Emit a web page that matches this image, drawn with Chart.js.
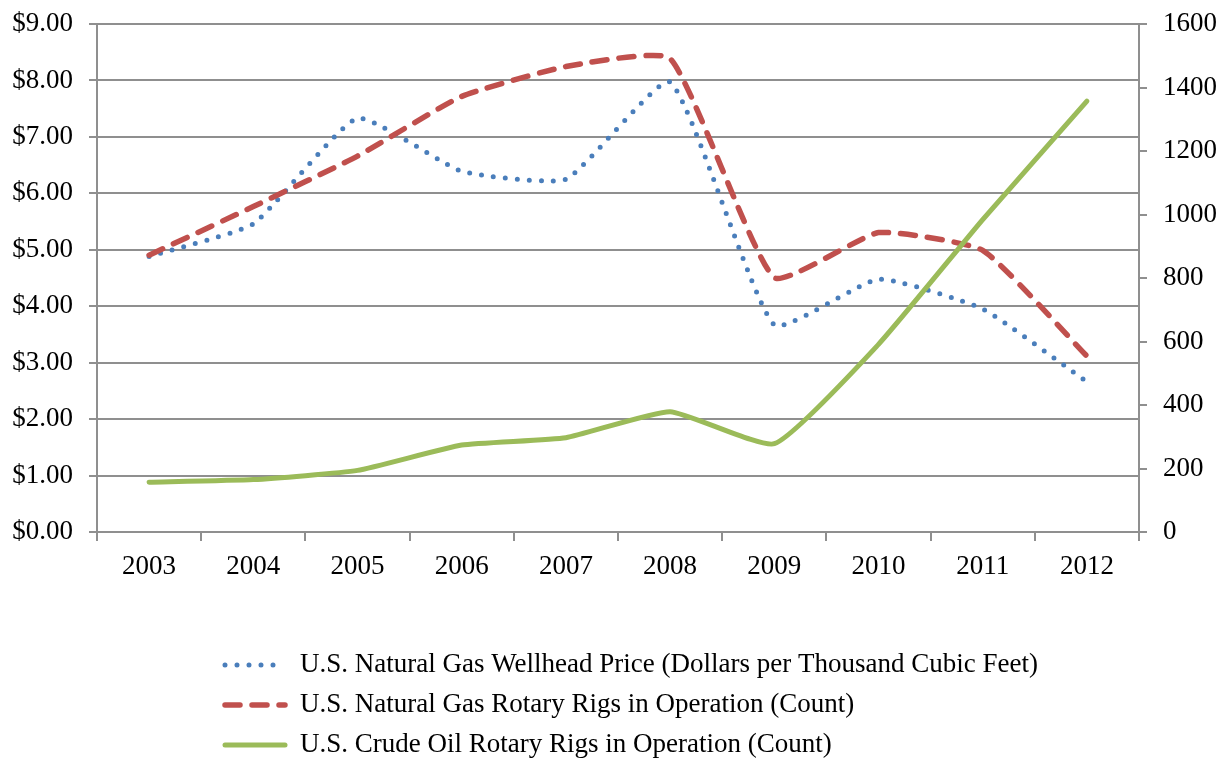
<!DOCTYPE html>
<html>
<head>
<meta charset="utf-8">
<script src="https://cdn.jsdelivr.net/npm/chart.js@4"></script>
<style>
  html, body { margin: 0; padding: 0; background: #fff; }
</style>
</head>
<body>
<canvas id="rigChart" width="1226" height="758"></canvas>
<script>
const years = ['2003', '2004', '2005', '2006', '2007', '2008', '2009', '2010', '2011', '2012'];
const wellheadPrice = [4.88, 5.46, 7.33, 6.39, 6.25, 7.97, 3.67, 4.48, 3.95, 2.66];
const gasRigs = [872, 1025, 1184, 1372, 1466, 1491, 801, 943, 887, 554];
const oilRigs = [157, 165, 194, 274, 297, 379, 278, 591, 984, 1357];
const seriesNames = [
    'U.S. Natural Gas Wellhead Price (Dollars per Thousand Cubic Feet)',
    'U.S. Natural Gas Rotary Rigs in Operation (Count)',
    'U.S. Crude Oil Rotary Rigs in Operation (Count)'
];

const fontFamily = '"Liberation Serif", "Times New Roman", serif';
const axisGray = '#8f8f8f';

// legend is drawn by hand so it can sit as a left-aligned block under the chart
const bottomLegend = {
    id: 'bottomLegend',
    afterDraw(chart) {
        const ctx = chart.ctx;
        ctx.save();
        ctx.font = '27px ' + fontFamily;
        ctx.textBaseline = 'middle';
        ctx.fillStyle = '#000';
        chart.data.datasets.forEach((ds, i) => {
            const y = 665 + i * 40;
            ctx.strokeStyle = ds.borderColor;
            ctx.lineWidth = ds.borderWidth;
            ctx.lineCap = ds.borderCapStyle;
            ctx.setLineDash(ds.borderDash || []);
            ctx.beginPath();
            ctx.moveTo(225, y);
            ctx.lineTo(285, y);
            ctx.stroke();
            ctx.setLineDash([]);
            ctx.fillText(ds.label, 300, y);
        });
        ctx.restore();
    }
};

const ctx = document.getElementById('rigChart').getContext('2d');
new Chart(ctx, {
    type: 'line',
    data: {
        labels: years,
        datasets: [{
            label: seriesNames[0],
            data: wellheadPrice,
            yAxisID: 'y',
            borderColor: '#4a7ebb',
            borderWidth: 5,
            borderDash: [0, 12],
            borderCapStyle: 'round',
            pointRadius: 0,
            tension: 0.15,
            order: 3
        }, {
            label: seriesNames[1],
            data: gasRigs,
            yAxisID: 'y1',
            borderColor: '#c0504d',
            borderWidth: 5.5,
            borderDash: [15, 12],
            borderCapStyle: 'round',
            pointRadius: 0,
            tension: 0.15,
            order: 2
        }, {
            label: seriesNames[2],
            data: oilRigs,
            yAxisID: 'y1',
            borderColor: '#9bbb59',
            borderWidth: 5,
            borderCapStyle: 'round',
            borderJoinStyle: 'round',
            pointRadius: 0,
            tension: 0.15,
            order: 1
        }]
    },
    options: {
        responsive: false,
        animation: false,
        devicePixelRatio: 1,
        layout: {
            padding: { top: 24, bottom: 162, left: 0, right: 0 }
        },
        plugins: {
            legend: { display: false },
            tooltip: { enabled: false }
        },
        scales: {
            x: {
                offset: true,
                grid: { offset: true, drawOnChartArea: false, color: axisGray, lineWidth: 2, tickLength: 9 },
                border: { color: axisGray, width: 2 },
                ticks: { color: '#000', font: { family: fontFamily, size: 27 }, padding: 10, maxRotation: 0 },
                afterFit(s) { s.height = 64; s.paddingLeft = 0; s.paddingRight = 0; }
            },
            y: {
                position: 'left',
                min: 0,
                max: 9,
                grid: { color: axisGray, lineWidth: 2, tickLength: 8 },
                border: { color: axisGray, width: 2 },
                ticks: {
                    stepSize: 1,
                    color: '#000',
                    padding: 16,
                    font: { family: fontFamily, size: 27 },
                    callback: v => '$' + v.toFixed(2)
                },
                afterFit(s) { s.width = 97; s.paddingTop = 0; s.paddingBottom = 0; }
            },
            y1: {
                position: 'right',
                min: 0,
                max: 1600,
                grid: { drawOnChartArea: false, color: axisGray, lineWidth: 2, tickLength: 8 },
                border: { color: axisGray, width: 2 },
                ticks: {
                    stepSize: 200,
                    color: '#000',
                    padding: 16,
                    font: { family: fontFamily, size: 27 },
                    callback: v => String(v)
                },
                afterFit(s) { s.width = 87; s.paddingTop = 0; s.paddingBottom = 0; }
            }
        }
    },
    plugins: [bottomLegend]
});
</script>
</body>
</html>
